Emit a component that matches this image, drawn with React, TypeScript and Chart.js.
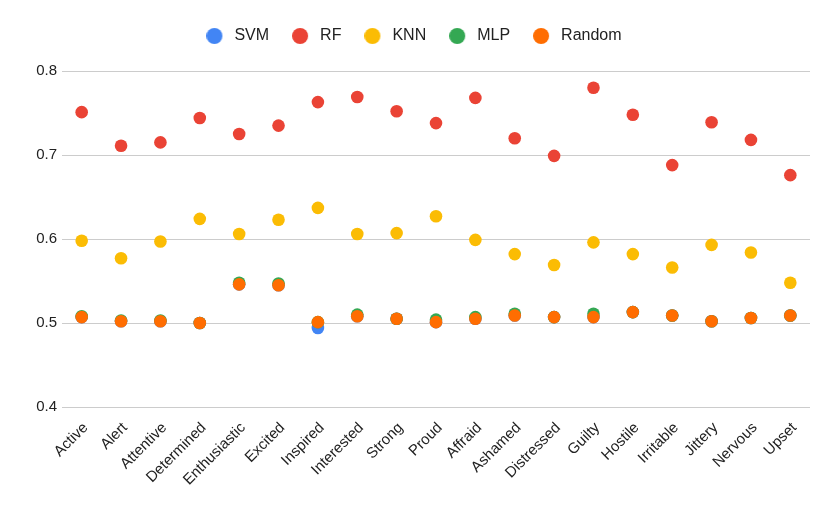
import React, { useEffect, useRef } from "react";
import { Chart, registerables } from "chart.js";

Chart.register(...registerables);

const categories = ["Active", "Alert", "Attentive", "Determined", "Enthusiastic", "Excited", "Inspired", "Interested", "Strong", "Proud", "Affraid", "Ashamed", "Distressed", "Guilty", "Hostile", "Irritable", "Jittery", "Nervous", "Upset"];
const svmValues = [0.507, 0.502, 0.502, 0.5, 0.546, 0.545, 0.494, 0.508, 0.505, 0.501, 0.505, 0.509, 0.507, 0.507, 0.513, 0.509, 0.502, 0.506, 0.509];
const rfValues = [0.751, 0.711, 0.715, 0.744, 0.725, 0.735, 0.763, 0.769, 0.752, 0.738, 0.768, 0.72, 0.699, 0.78, 0.748, 0.688, 0.739, 0.718, 0.676];
const knnValues = [0.598, 0.577, 0.597, 0.624, 0.606, 0.623, 0.637, 0.606, 0.607, 0.627, 0.599, 0.582, 0.569, 0.596, 0.582, 0.566, 0.593, 0.584, 0.548];
const mlpValues = [0.508, 0.503, 0.503, 0.5, 0.548, 0.547, 0.501, 0.51, 0.505, 0.504, 0.507, 0.511, 0.507, 0.511, 0.513, 0.509, 0.502, 0.506, 0.509];
const randomValues = [0.507, 0.502, 0.502, 0.5, 0.546, 0.545, 0.501, 0.508, 0.505, 0.501, 0.505, 0.509, 0.507, 0.507, 0.513, 0.509, 0.502, 0.506, 0.509];
const yTicks = [0.4, 0.5, 0.6, 0.7, 0.8];

const FONT = "'Liberation Sans', Arial, sans-serif";

function makeDot(color: string) {
  const c = document.createElement("canvas");
  c.width = 24;
  c.height = 16;
  const g = c.getContext("2d")!;
  g.fillStyle = color;
  g.beginPath();
  g.arc(8, 8, 8, 0, Math.PI * 2);
  g.fill();
  return c;
}

export default function App() {
  const ref = useRef<HTMLCanvasElement>(null);
  useEffect(() => {
    if (!ref.current) return;
    const mk = (label: string, data: number[], color: string) => ({
      label,
      data,
      backgroundColor: color,
      borderColor: color,
      pointRadius: 6.3,
      pointHoverRadius: 6.3,
      pointBorderWidth: 0,
      showLine: false,
    });
    const legendGap = {
      id: "legendGap",
      afterInit(chart: any) {
        const lg = chart.legend;
        if (!lg) return;
        const f = lg.fit;
        lg.fit = function () {
          f.call(this);
          this.height += 17;
        };
      },
      afterLayout(chart: any) {
        const lg = chart.legend;
        if (!lg) return;
        lg.left += 11;
        lg.right += 11;
      },
    };
    const chart = new Chart(ref.current, {
      type: "line",
      data: {
        labels: categories,
        datasets: [
          mk("Random", randomValues, "#FF6D01"),
          mk("MLP", mlpValues, "#34A853"),
          mk("KNN", knnValues, "#FBBC04"),
          mk("RF", rfValues, "#EA4335"),
          mk("SVM", svmValues, "#4285F4"),
        ],
      },
      plugins: [legendGap],
      options: {
        animation: false,
        responsive: true,
        maintainAspectRatio: false,
        layout: { padding: { left: 0, right: 20, top: 1, bottom: 0 } },
        plugins: {
          legend: {
            reverse: true,
            position: "top",
            labels: {
              usePointStyle: true,
              boxWidth: 16,
              boxHeight: 16,
              padding: 27,
              color: "#222",
              font: { family: FONT, size: 16 },
              generateLabels: (chart: any) => {
                const items = Chart.defaults.plugins.legend.labels.generateLabels(chart);
                return items.map((it: any) => ({ ...it, pointStyle: makeDot(it.fillStyle as string) }));
              },
            },
          },
          tooltip: { enabled: false },
        },
        scales: {
          x: {
            offset: true,
            grid: { display: false },
            border: { display: false },
            ticks: {
              minRotation: 45,
              maxRotation: 45,
              autoSkip: false,
              color: "#222",
              padding: 4,
              labelOffset: 4,
              font: { family: FONT, size: 15 },
            },
            afterFit: (s: any) => { s.height = 107; },
          },
          y: {
            min: 0.4,
            max: 0.8,
            afterBuildTicks: (s: any) => { s.ticks = yTicks.map((v) => ({ value: v })); },
            grid: { color: "#cccccc", lineWidth: 1, drawTicks: false },
            border: { display: false },
            ticks: {
              color: "#222",
              padding: 5,
              font: { family: FONT, size: 15 },
              callback: (v: any) => Number(v).toFixed(1),
            },
            afterFit: (s: any) => { s.width = 62; },
          },
        },
      },
    });
    return () => chart.destroy();
  }, []);
  return (
    <div style={{ position: "fixed", left: 0, top: 0, width: 830, height: 514, background: "#fff" }}>
      <canvas ref={ref} />
    </div>
  );
}
